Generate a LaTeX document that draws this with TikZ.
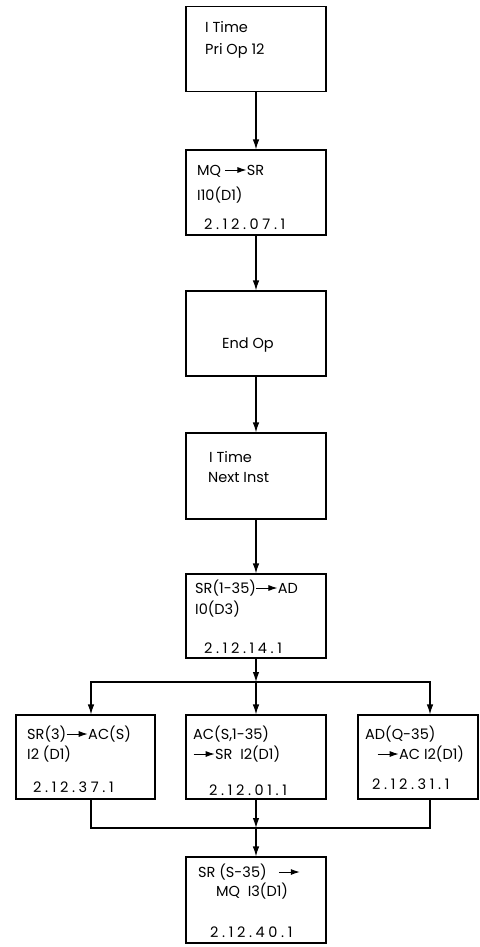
\documentclass[tikz,border=0pt]{standalone}
\usepackage{fontspec}
\setmainfont{Poppins}
\newfontfamily\numfont[LetterSpace=25]{Poppins}
\usetikzlibrary{arrows.meta}

\tikzset{
  box/.style={draw, line width=1.1pt, minimum height=85pt, minimum width=140pt, inner sep=0pt},
  lbl/.style={anchor=base west, inner sep=0pt, font=\fontsize{14.5}{17}\selectfont},
  num/.style={lbl, font=\fontsize{14.5}{17}\numfont},
  flow/.style={line width=1.1pt, -{Latex[length=10pt,width=6.5pt]}},
  wire/.style={line width=1.1pt}
}
\newcommand{\tto}{\tikz[baseline=-5pt]\draw[line width=1pt,-{Latex[length=9pt,width=6pt]}] (0pt,0pt) -- (21pt,0pt);}

\begin{document}
\begin{tikzpicture}[x=1pt,y=-1pt]
  \useasboundingbox (0,0) rectangle (479,947);

  % main chain
  \node[box] (op1) at (256,49) {};
  \node[box] (op2) at (256,192.5) {};
  \node[box] (op3) at (256,333.5) {};
  \node[box, minimum height=86pt] (op4) at (256,476) {};
  \node[box, minimum height=84pt] (op5) at (256,616) {};
  % three branches
  \node[box, minimum width=139pt, minimum height=84pt] (exA) at (85.5,757) {};
  \node[box, minimum height=84pt] (exB) at (256,757) {};
  \node[box, minimum width=120pt, minimum height=84pt] (exC) at (418,757) {};
  \node[box, minimum height=86pt] (op6) at (256,900) {};

  \coordinate (split) at (256,682);
  \coordinate (merge) at (256,828);

  % texts
  \node[lbl] (t1a) at (205,33) {I Time};
  \node[lbl] (t1b) at (205,55) {Pri Op 12};
  \node[lbl] (t2a) at (197,175) {MQ \tto SR};
  \node[lbl] (t2b) at (197,200) {I10(D1)};
  \node[num] (t2c) at (204,229) {2.12.07.1};
  \node[lbl] (t3a) at (222,348) {End Op};
  \node[lbl] (t4a) at (209,462) {I Time};
  \node[lbl] (t4b) at (208,482) {Next Inst};
  \node[lbl] (t5a) at (195,593) {SR(1-35)\tto AD};
  \node[lbl] (t5b) at (195,614) {I0(D3)};
  \node[num] (t5c) at (204,653) {2.12.14.1};
  \node[lbl] (tAa) at (27,739) {SR(3)\tto AC(S)};
  \node[lbl] (tAb) at (27,759) {I2 (D1)};
  \node[num] (tAc) at (33,792) {2.12.37.1};
  \node[lbl] (tBa) at (193,739) {AC(S,1-35)};
  \node[lbl] (tBb) at (193,759) {\tto SR\ \ I2(D1)};
  \node[num] (tBc) at (209,795) {2.12.01.1};
  \node[lbl] (tCa) at (365,739) {AD(Q-35)};
  \node[lbl] (tCb) at (377,759) {\tto AC I2(D1)};
  \node[num] (tCc) at (372,789) {2.12.31.1};
  \node[lbl] (t6a) at (198,877) {SR (S-35)\ \ \ \tto};
  \node[lbl] (t6b) at (216,896) {MQ\ \ I3(D1)};
  \node[num] (t6c) at (210,937) {2.12.40.1};

  % connectors
  \draw[flow] (op1) -- (op2);
  \draw[flow] (op2) -- (op3);
  \draw[flow] (op3) -- (op4);
  \draw[flow] (op4) -- (op5);
  \draw[flow] (op5) -- (split);
  \draw[flow] (split) -| ([xshift=5.5pt]exA.north);
  \draw[flow] (split) -- (exB);
  \draw[flow] (split) -| ([xshift=12pt]exC.north);
  \draw[wire] ([xshift=5.5pt]exA.south) |- (merge) -| ([xshift=12pt]exC.south);
  \draw[flow] (exB) -- (merge);
  \draw[flow] (merge) -- (op6);
\end{tikzpicture}
\end{document}
